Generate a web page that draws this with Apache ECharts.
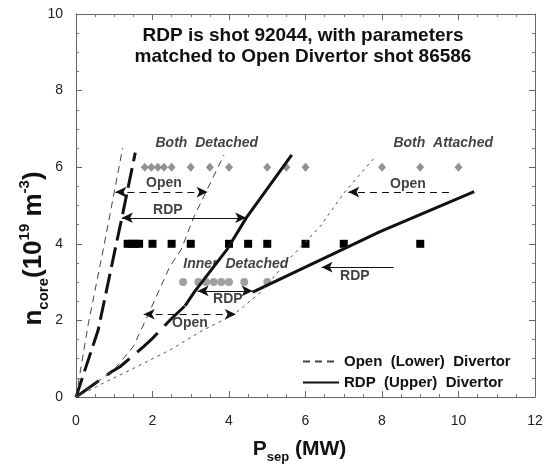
<!DOCTYPE html>
<html>
<head>
<meta charset="utf-8">
<script src="https://cdn.jsdelivr.net/npm/echarts@6/dist/echarts.min.js"></script>
<style>
  html, body { margin: 0; padding: 0; background: #fff; }
  #chart { width: 546px; height: 468px; }
</style>
</head>
<body>
<div id="chart"></div>
<script>
// values (P_sep in MW, n_core in 1e19 m^-3)
const xTicks = [0, 2, 4, 6, 8, 10, 12];
const yTicks = [0, 2, 4, 6, 8, 10];

// shots
const diamondX = [1.8, 1.97, 2.14, 2.3, 2.5, 3.0, 3.5, 4.0, 5.0, 5.5, 6.0, 8.0, 9.0, 10.0];
const diamondY = 6;
const squareX = [1.35, 1.45, 1.55, 1.65, 2.0, 2.5, 3.0, 4.0, 4.5, 5.0, 6.0, 7.0, 9.0];
const squareY = 4;
const circleX = [2.8, 3.2, 3.4, 3.6, 3.8, 4.0, 4.4, 5.0];
const circleY = 3;

// open (lower) divertor boundaries
const openSteep = [[0, 0], [0.32, 1.9], [0.71, 3.84], [1.0, 5.35], [1.22, 6.5]];
const openMiddle = [[0, 0], [0.4, 0.28], [1.0, 0.72], [1.5, 1.32], [1.9, 2.18], [2.45, 3.4],
  [2.75, 3.85], [3.07, 4.67], [3.4, 5.36], [3.87, 6.32]];
const openRight = [[0, 0], [0.37, 0.18], [0.71, 0.36], [1.59, 0.79], [2.46, 1.23], [3.33, 1.75],
  [4.11, 2.14], [4.38, 2.36], [4.81, 2.72], [5.59, 3.62], [6.38, 4.45], [7.03, 5.36], [7.82, 6.27]];

// rdp (upper) divertor boundaries
const rdpSteep = [[0, 0], [0.58, 1.75], [1.02, 3.84], [1.2, 4.68], [1.55, 6.38]];
const rdpMiddleDash = [[0, 0], [0.93, 0.66], [1.15, 0.79], [1.76, 1.31], [2.0, 1.53], [2.5, 2.05], [2.85, 2.38]];
const rdpMiddleSolid = [[2.85, 2.38], [3.1, 2.75], [3.94, 3.84], [4.46, 4.69], [5.64, 6.32]];
const rdpAttached = [[4.62, 2.74], [7.95, 4.32], [10.41, 5.36]];

// arrows: [x1, y1, x2, y2, double?, dashed?]
const arrows = [
  [1.03, 5.35, 3.44, 5.35, true, true],
  [1.2, 4.68, 4.45, 4.68, true, false],
  [3.18, 2.77, 4.62, 2.77, true, false],
  [1.77, 2.16, 4.18, 2.16, true, true],
  [9.75, 5.35, 7.12, 5.35, false, true],
  [8.3, 3.39, 6.42, 3.39, false, false]
];

// labels in the plot: [x, y, text, italic?]
const notes = [
  [3.42, 6.63, 'Both  Detached', true],
  [9.6, 6.63, 'Both  Attached', true],
  [2.3, 5.58, 'Open', false],
  [2.4, 4.87, 'RDP', false],
  [4.18, 3.47, 'Inner  Detached', true],
  [3.97, 2.56, 'RDP', false],
  [2.98, 1.93, 'Open', false],
  [8.68, 5.56, 'Open', false],
  [7.29, 3.15, 'RDP', false]
];

const FONT = 'Liberation Sans, Arial, sans-serif';
const openName = 'Open  (Lower)  Divertor';
const rdpName = 'RDP  (Upper)  Divertor';

function row(xs, y) {
  return xs.map(x => [x, y]);
}

function axisBase(pos, showLabel) {
  return {
    type: 'value',
    position: pos,
    min: 0,
    interval: 2,
    axisLine: { show: true, onZero: false, lineStyle: { color: '#666', width: 1 } },
    axisTick: { show: true, inside: true, length: 6, lineStyle: { color: '#666' } },
    minorTick: { show: true, splitNumber: 4, length: 3, lineStyle: { color: '#777' } },
    splitLine: { show: false },
    axisLabel: { show: showLabel, color: '#222', fontSize: 14, fontFamily: FONT }
  };
}

let myChart = echarts.init(document.getElementById('chart'));

let xBottom = axisBase('bottom', true);
xBottom.max = 12;
xBottom.axisLabel.margin = 17;
xBottom.name = '{b|P}{s|sep}{b| (MW)}';
xBottom.nameLocation = 'middle';
xBottom.nameGap = 37;
xBottom.nameTextStyle = {
  padding: [0, 12, 0, 0],
  rich: {
    b: { fontSize: 21, fontWeight: 'bold', fontFamily: FONT, color: '#111', lineHeight: 30 },
    s: { fontSize: 13, fontWeight: 'bold', fontFamily: FONT, color: '#111', lineHeight: 13, verticalAlign: 'bottom' }
  }
};
let xTop = axisBase('top', false);
xTop.max = 12;

let yLeft = axisBase('left', true);
yLeft.max = 10;
yLeft.axisLabel.margin = 13;
yLeft.name = '{b|n}{s|core}{b|(10}{p|19}{b| m}{p|-3}{b|)}';
yLeft.nameLocation = 'middle';
yLeft.nameMoveOverlap = false;
yLeft.nameGap = 25;
yLeft.nameTextStyle = {
  padding: [0, 86, 0, 0],
  rich: {
    b: { fontSize: 26, fontWeight: 'bold', fontFamily: FONT, color: '#111', lineHeight: 34 },
    s: { fontSize: 15, fontWeight: 'bold', fontFamily: FONT, color: '#111', lineHeight: 15, verticalAlign: 'bottom' },
    p: { fontSize: 15, fontWeight: 'bold', fontFamily: FONT, color: '#111', lineHeight: 17, verticalAlign: 'top' }
  }
};
let yRight = axisBase('right', false);
yRight.max = 10;

function lineSeries(name, data, color, width, type) {
  return {
    name: name,
    type: 'line',
    data: data,
    symbol: 'none',
    silent: true,
    itemStyle: { color: color },
    lineStyle: { color: color, width: width, type: type },
    z: 3
  };
}

let arrowLines = arrows.map(a => [
  { coord: [a[0], a[1]], symbol: a[4] ? 'arrow' : 'none', symbolSize: [8, 11] },
  {
    coord: [a[2], a[3]], symbol: 'arrow', symbolSize: [8, 11],
    lineStyle: { color: '#111', width: 1.2, type: a[5] ? [7, 5] : 'solid' }
  }
]);

myChart.setOption({
  animation: false,
  backgroundColor: '#fff',
  grid: { left: 76, right: 11, top: 14, bottom: 71, outerBoundsMode: 'none', containLabel: false },
  xAxis: [xBottom, xTop],
  yAxis: [yLeft, yRight],
  legend: {
    data: [openName, rdpName],
    orient: 'vertical',
    left: 297,
    top: 349,
    itemWidth: 36,
    itemHeight: 14,
    itemGap: 6,
    selectedMode: false,
    itemStyle: { opacity: 0 },
    textStyle: { fontSize: 15, fontWeight: 'bold', fontFamily: FONT, color: '#111' }
  },
  graphic: [{
    type: 'text',
    silent: true,
    style: {
      text: 'RDP is shot 92044, with parameters\nmatched to Open Divertor shot 86586',
      x: 303, y: 25,
      textAlign: 'center',
      fontSize: 19,
      fontWeight: 'bold',
      fontFamily: FONT,
      lineHeight: 21,
      fill: '#111'
    }
  }],
  series: [
    lineSeries(rdpName, rdpMiddleSolid, '#111', 3, 'solid'),
    lineSeries(rdpName, rdpAttached, '#111', 3, 'solid'),
    lineSeries(rdpName, rdpSteep, '#111', 3, [20, 7]),
    lineSeries(rdpName, rdpMiddleDash, '#111', 3, [28, 10]),
    lineSeries(openName, openSteep, '#444', 1, [7, 5]),
    lineSeries(openName, openMiddle, '#444', 1, [7, 5]),
    lineSeries(openName, openRight, '#555', 1, [3, 4]),
    {
      name: 'diamonds', type: 'scatter', data: row(diamondX, diamondY),
      symbol: 'diamond', symbolSize: [8, 9], itemStyle: { color: '#777' }, z: 2
    },
    {
      name: 'squares', type: 'scatter', data: row(squareX, squareY),
      symbol: 'rect', symbolSize: 8, itemStyle: { color: '#000', opacity: 1 }, z: 2
    },
    {
      name: 'circles', type: 'scatter', data: row(circleX, circleY),
      symbol: 'circle', symbolSize: 8, itemStyle: { color: '#888' }, z: 2
    },
    {
      name: 'notes',
      type: 'scatter',
      silent: true,
      symbolSize: 1,
      itemStyle: { color: 'rgba(0,0,0,0)' },
      data: notes.map(n => ({
        value: [n[0], n[1]],
        label: {
          show: true,
          position: 'inside',
          formatter: n[2],
          fontSize: 14,
          fontWeight: 'bold',
          fontStyle: n[3] ? 'italic' : 'normal',
          fontFamily: FONT,
          color: '#111'
        }
      })),
      markLine: {
        silent: true,
        animation: false,
        label: { show: false },
        lineStyle: { color: '#111', width: 1.2 },
        data: arrowLines
      },
      z: 4
    }
  ]
});
</script>
</body>
</html>
